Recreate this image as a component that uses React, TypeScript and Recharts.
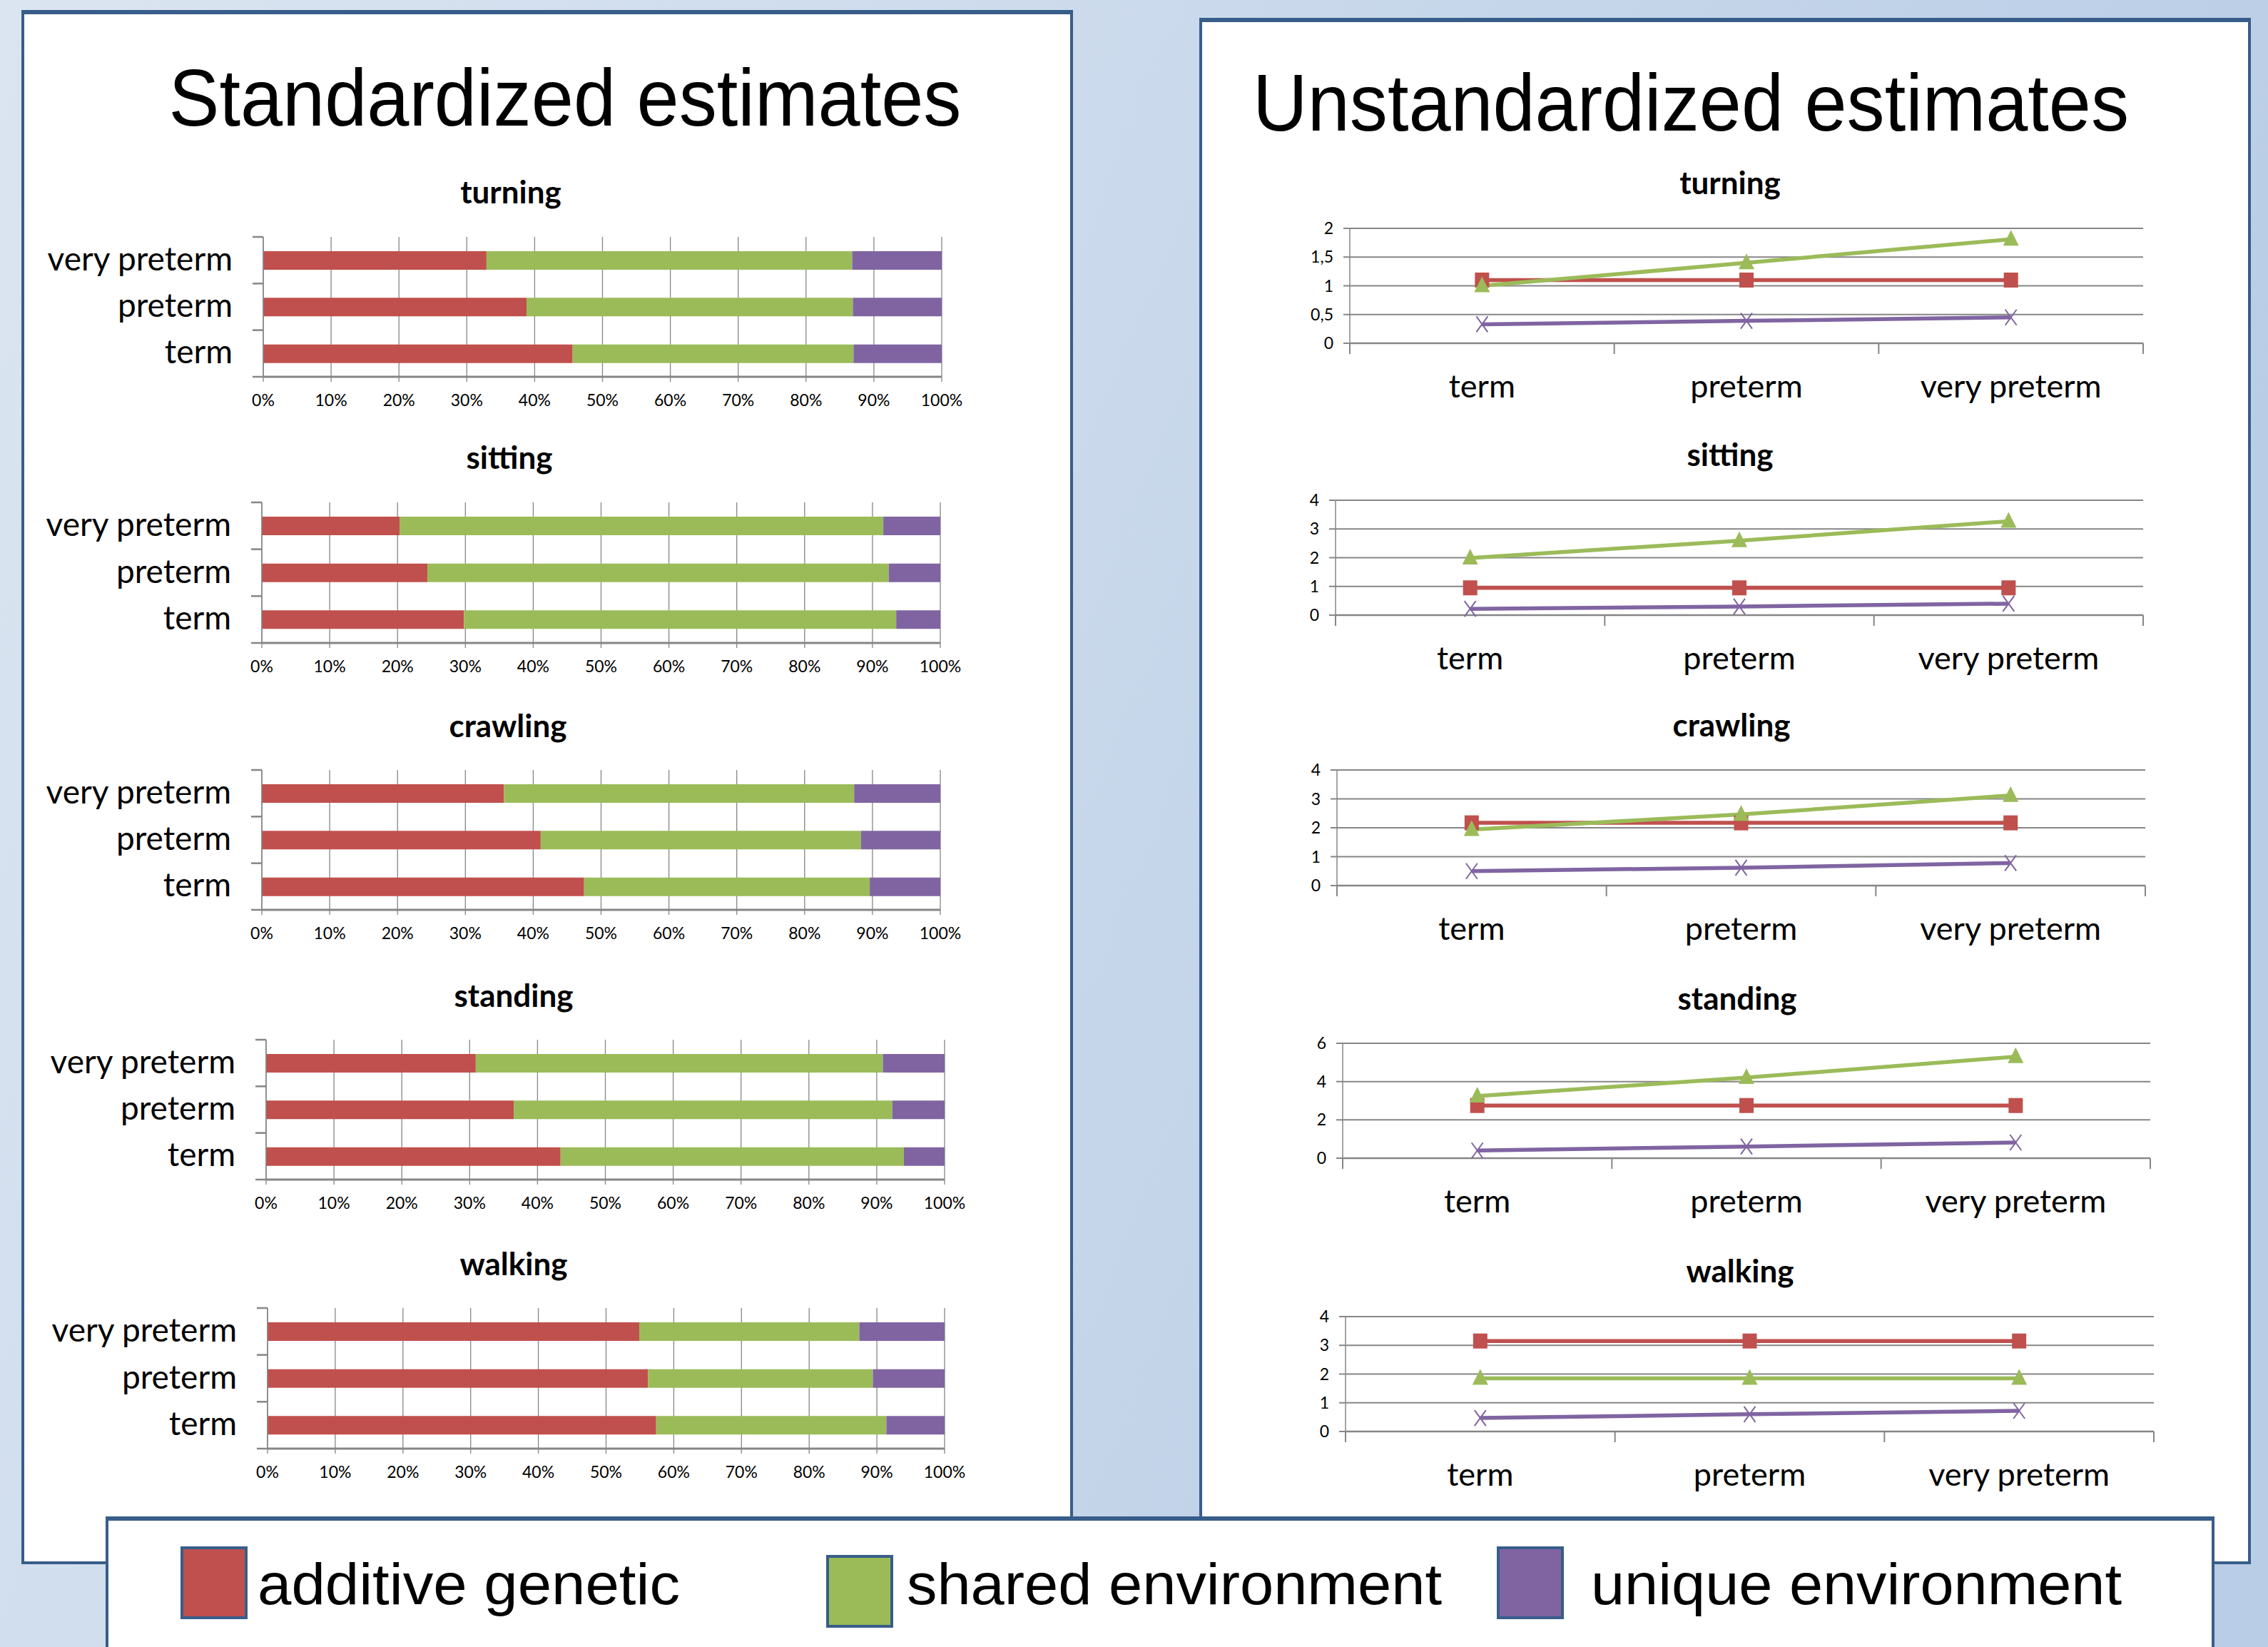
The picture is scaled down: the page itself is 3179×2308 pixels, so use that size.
import React from 'react';
import { BarChart, Bar, LineChart, Line, XAxis, YAxis, CartesianGrid } from 'recharts';

const milestones = ['turning', 'sitting', 'crawling', 'standing', 'walking'];
const groups = ['term', 'preterm', 'very preterm'];
const pctTicks = [0, 10, 20, 30, 40, 50, 60, 70, 80, 90, 100];

// standardized estimates, % of variance (term, preterm, very preterm) per milestone
const stdAdditive = [
  [45.6, 38.8, 32.9],
  [29.8, 24.4, 20.3],
  [47.5, 41.1, 35.7],
  [43.4, 36.5, 30.9],
  [57.4, 56.2, 54.9],
];
const stdShared = [
  [41.4, 48.1, 53.9],
  [63.7, 68.0, 71.3],
  [42.1, 47.2, 51.6],
  [50.6, 55.8, 60.0],
  [34.0, 33.2, 32.5],
];
const stdUnique = [
  [13.0, 13.1, 13.2],
  [6.5, 7.6, 8.4],
  [10.4, 11.7, 12.7],
  [6.0, 7.7, 9.1],
  [8.6, 10.6, 12.6],
];

// unstandardized estimates (term, preterm, very preterm) per milestone
const rawAdditive = [
  [1.1, 1.1, 1.1],
  [0.95, 0.95, 0.95],
  [2.17, 2.17, 2.17],
  [2.75, 2.75, 2.75],
  [3.15, 3.15, 3.15],
];
const rawShared = [
  [1.0, 1.4, 1.81],
  [1.99, 2.59, 3.27],
  [1.94, 2.46, 3.12],
  [3.24, 4.21, 5.3],
  [1.85, 1.85, 1.85],
];
const rawUnique = [
  [0.33, 0.39, 0.45],
  [0.22, 0.3, 0.4],
  [0.5, 0.62, 0.78],
  [0.4, 0.61, 0.82],
  [0.47, 0.6, 0.72],
];
const rawTicks = [
  [0, 0.5, 1, 1.5, 2],
  [0, 1, 2, 3, 4],
  [0, 1, 2, 3, 4],
  [0, 2, 4, 6],
  [0, 1, 2, 3, 4],
];

const legendNames = ['additive genetic', 'shared environment', 'unique environment'];

const RED = '#C0504D';
const GREEN = '#9BBB59';
const PURPLE = '#8064A2';
const GRID = '#868686';
const FRAME = '#385D8A';
const FONT = 'Lato, "Open Sans", sans-serif';
const SANS = '"Liberation Sans", Arial, sans-serif';

// plot boxes: left, right, top, bottom (page px)
const barBoxes = [
  [369, 1320, 332, 528],
  [367, 1318, 704, 901],
  [367, 1318, 1079, 1275],
  [373, 1324, 1457, 1653],
  [375, 1324, 1833, 2030],
];
const barTitles = [[716, 285], [714, 657], [712, 1033], [720, 1411], [720, 1787]];
const lineBoxes = [
  [1892, 3004, 320, 481],
  [1872, 3004, 701, 862],
  [1874, 3007, 1079, 1241],
  [1882, 3014, 1462, 1623],
  [1886, 3019, 1845, 2006],
];
const lineTitles = [[2425, 272], [2425, 653], [2427, 1032], [2435, 1415], [2439, 1797]];

function StdChart({ i }: { i: number }) {
  const [pl, pr, pt, pb] = barBoxes[i];
  const left = 40;
  const mt = 10;
  const mr = 45;
  const xh = 60;
  const w = pr + mr - left;
  const h = mt + (pb - pt) + xh;
  const band = (pb - pt) / 3;
  const axisX = pl - left;
  const data = groups.map((g, k) => ({
    group: g,
    A: stdAdditive[i][k],
    C: stdShared[i][k],
    E: stdUnique[i][k],
  }));

  const catTick = (props: any) => {
    const { y, payload } = props;
    return (
      <g>
        <text x={axisX - 43} y={y + 14} textAnchor="end" fontSize={46} fontFamily={FONT} fill="#000">
          {payload.value}
        </text>
        <line x1={axisX - 15} x2={axisX} y1={y - band / 2} y2={y - band / 2} stroke={GRID} strokeWidth={2.5} />
        {payload.value === 'term' && (
          <line x1={axisX - 15} x2={axisX} y1={y + band / 2} y2={y + band / 2} stroke={GRID} strokeWidth={2.5} />
        )}
      </g>
    );
  };

  return (
    <div style={{ position: 'absolute', left, top: pt - mt }}>
      <BarChart width={w} height={h} data={data} layout="vertical" margin={{ top: mt, right: mr, bottom: 0, left: 0 }}>
        <CartesianGrid horizontal={false} stroke={GRID} strokeWidth={1.3} />
        <XAxis
          type="number"
          domain={[0, 100]}
          allowDataOverflow
          ticks={pctTicks}
          interval={0}
          tickFormatter={(v) => `${v}%`}
          tick={{ fontSize: 23, fill: '#000', fontFamily: FONT }}
          tickSize={7}
          tickMargin={18}
          axisLine={{ stroke: GRID, strokeWidth: 3 }}
          tickLine={{ stroke: GRID, strokeWidth: 1.3 }}
          height={xh}
        />
        <YAxis
          type="category"
          dataKey="group"
          reversed
          width={axisX}
          tick={catTick}
          tickLine={false}
          axisLine={{ stroke: GRID, strokeWidth: 1.5 }}
        />
        <Bar dataKey="A" stackId="s" fill={RED} barSize={26} isAnimationActive={false} />
        <Bar dataKey="C" stackId="s" fill={GREEN} barSize={26} isAnimationActive={false} />
        <Bar dataKey="E" stackId="s" fill={PURPLE} barSize={26} isAnimationActive={false} />
      </BarChart>
    </div>
  );
}

const squareDot = (props: any) => {
  const { cx, cy, index } = props;
  return <rect key={`sq-${index}`} x={cx - 10} y={cy - 10.5} width={20} height={21} fill={RED} />;
};
const triangleDot = (props: any) => {
  const { cx, cy, index } = props;
  return (
    <polygon
      key={`tr-${index}`}
      points={`${cx},${cy - 13} ${cx - 11},${cy + 9} ${cx + 11},${cy + 9}`}
      fill={GREEN}
    />
  );
};
const crossDot = (props: any) => {
  const { cx, cy, index } = props;
  return (
    <g key={`x-${index}`}>
      <line x1={cx - 8} y1={cy - 11} x2={cx + 8} y2={cy + 11} stroke={PURPLE} strokeWidth={2} />
      <line x1={cx + 8} y1={cy - 11} x2={cx - 8} y2={cy + 11} stroke={PURPLE} strokeWidth={2} />
    </g>
  );
};

function RawChart({ i }: { i: number }) {
  const [pl, pr, pt, pb] = lineBoxes[i];
  const left = 1700;
  const mt = 20;
  const mr = 40;
  const xh = 100;
  const w = pr + mr - left;
  const h = mt + (pb - pt) + xh;
  const bw = (pr - pl) / 3;
  const axisX = pl - left;
  const bottomY = mt + (pb - pt);
  const ticks = rawTicks[i];
  const data = groups.map((g, k) => ({
    group: g,
    A: rawAdditive[i][k],
    C: rawShared[i][k],
    E: rawUnique[i][k],
  }));

  const catTick = (props: any) => {
    const { x, payload } = props;
    return (
      <g>
        <text x={x} y={bottomY + 76} textAnchor="middle" fontSize={45} fontFamily={FONT} fill="#000">
          {payload.value}
        </text>
        <line x1={x - bw / 2} x2={x - bw / 2} y1={bottomY} y2={bottomY + 15} stroke={GRID} strokeWidth={2} />
        {payload.value === 'very preterm' && (
          <line x1={x + bw / 2} x2={x + bw / 2} y1={bottomY} y2={bottomY + 15} stroke={GRID} strokeWidth={2} />
        )}
      </g>
    );
  };

  return (
    <div style={{ position: 'absolute', left, top: pt - mt }}>
      <LineChart width={w} height={h} data={data} margin={{ top: mt, right: mr, bottom: 0, left: 0 }}>
        <CartesianGrid vertical={false} stroke={GRID} strokeWidth={2} />
        <XAxis
          dataKey="group"
          padding={{ left: bw / 2, right: bw / 2 }}
          interval={0}
          tick={catTick}
          tickLine={false}
          axisLine={{ stroke: GRID, strokeWidth: 2.5 }}
          height={xh}
        />
        <YAxis
          type="number"
          domain={[0, ticks[ticks.length - 1]]}
          ticks={ticks}
          interval={0}
          tickFormatter={(v) => String(v).replace('.', ',')}
          tick={{ fontSize: 23, fill: '#000', fontFamily: FONT }}
          tickSize={9}
          tickMargin={14}
          tickLine={{ stroke: GRID, strokeWidth: 2 }}
          axisLine={{ stroke: GRID, strokeWidth: 1.5 }}
          width={axisX}
        />
        <Line dataKey="A" stroke={RED} strokeWidth={5.5} dot={squareDot} activeDot={false} isAnimationActive={false} />
        <Line dataKey="C" stroke={GREEN} strokeWidth={5.5} dot={triangleDot} activeDot={false} isAnimationActive={false} />
        <Line dataKey="E" stroke={PURPLE} strokeWidth={5.5} dot={crossDot} activeDot={false} isAnimationActive={false} />
      </LineChart>
    </div>
  );
}

function Backdrop() {
  const swatches = [
    { x: 253, y: 2167, fill: RED, tx: 361, tw: 592 },
    { x: 1158, y: 2179, fill: GREEN, tx: 1271, tw: 750 },
    { x: 2098, y: 2167, fill: PURPLE, tx: 2230, tw: 744 },
  ];
  return (
    <svg width={3179} height={2308} style={{ position: 'absolute', left: 0, top: 0 }}>
      <defs>
        <linearGradient id="bg" x1="0" y1="0" x2="1" y2="0.3">
          <stop offset="0%" stopColor="#dbe5f1" />
          <stop offset="100%" stopColor="#b9cde6" />
        </linearGradient>
      </defs>
      <rect x={0} y={0} width={3179} height={2308} fill="url(#bg)" />
      <rect x={32} y={18} width={1470} height={2172} fill="#fff" stroke={FRAME} strokeWidth={4} />
      <rect x={30} y={14} width={1474} height={6} fill={FRAME} />
      <rect x={1683} y={29} width={1470} height={2161} fill="#fff" stroke={FRAME} strokeWidth={4} />
      <rect x={1681} y={25} width={1474} height={6} fill={FRAME} />
      <text x={792} y={176} textAnchor="middle" fontSize={114} fontFamily={SANS} textLength={1111} lengthAdjust="spacingAndGlyphs">
        Standardized estimates
      </text>
      <text x={2370} y={183} textAnchor="middle" fontSize={114} fontFamily={SANS} textLength={1228} lengthAdjust="spacingAndGlyphs">
        Unstandardized estimates
      </text>
      {milestones.map((m, k) => (
        <g key={m}>
          <text x={barTitles[k][0]} y={barTitles[k][1]} textAnchor="middle" fontSize={44} fontWeight={700} fontFamily={FONT}>
            {m}
          </text>
          <text x={lineTitles[k][0]} y={lineTitles[k][1]} textAnchor="middle" fontSize={44} fontWeight={700} fontFamily={FONT}>
            {m}
          </text>
        </g>
      ))}
      <rect x={150} y={2128} width={2952} height={220} fill="#fff" stroke={FRAME} strokeWidth={4} />
      <rect x={148} y={2125} width={2956} height={6} fill={FRAME} />
      {swatches.map((s, k) => (
        <g key={legendNames[k]}>
          <rect x={s.x + 2} y={s.y + 2} width={90} height={98} fill={s.fill} stroke={FRAME} strokeWidth={4} />
          <text x={s.tx} y={2248} fontSize={82} fontFamily={SANS} textLength={s.tw} lengthAdjust="spacingAndGlyphs">
            {legendNames[k]}
          </text>
        </g>
      ))}
    </svg>
  );
}

export default function App() {
  return (
    <div style={{ position: 'absolute', left: 0, top: 0, width: 3179, height: 2308, overflow: 'hidden' }}>
      <Backdrop />
      {milestones.map((m, k) => (
        <StdChart key={`s-${m}`} i={k} />
      ))}
      {milestones.map((m, k) => (
        <RawChart key={`r-${m}`} i={k} />
      ))}
    </div>
  );
}
